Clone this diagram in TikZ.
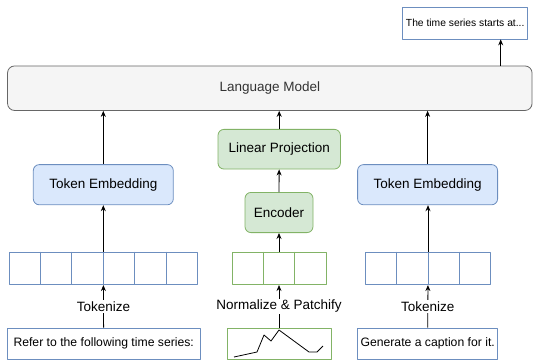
\documentclass[tikz,border=0pt]{standalone}
\usepackage{fontspec}
\setmainfont{Liberation Sans}
\usetikzlibrary{arrows.meta}
\usetikzlibrary{calc}

\definecolor{blueFill}{HTML}{DAE8FC}
\definecolor{blueLine}{HTML}{6C8EBF}
\definecolor{greenFill}{HTML}{D5E8D4}
\definecolor{greenLine}{HTML}{82B366}
\definecolor{grayFill}{HTML}{F5F5F5}
\definecolor{grayLine}{HTML}{666666}
\definecolor{darkText}{HTML}{333333}

\begin{document}
\begin{tikzpicture}[line join=round, >={Stealth[length=6pt,width=5pt]}, x=1pt, y=-1pt,
    box/.style={draw, line width=0.8pt, inner sep=0pt, font=\fontsize{13.5}{16}\selectfont},
    lmbox/.style={box, draw=grayLine, fill=grayFill, rounded corners=7pt, text=darkText},
    bluebox/.style={box, draw=blueLine, fill=blueFill, rounded corners=6pt},
    greenbox/.style={box, draw=greenLine, fill=greenFill, rounded corners=6pt},
    tokens/.style={box, fill=white, minimum height=32.7pt},
    textbox/.style={box, draw=blueLine, fill=white, minimum height=31pt, font=\fontsize{12.2}{14}\selectfont},
    lab/.style={fill=white, inner sep=1.5pt, font=\fontsize{13.5}{16}\selectfont},
    link/.style={->, line width=0.8pt}]
    \useasboundingbox (0,0) rectangle (538,360);

    % top
    \node[lmbox, minimum width=524.5pt, minimum height=44.5pt] (lm) at (269.8,88.2) {Language Model};
    \node[box, draw=blueLine, fill=white, minimum width=125pt, minimum height=32pt,
          font=\fontsize{10.3}{12}\selectfont] (out) at (465.2,23) {The time series starts at...};

    % middle
    \node[bluebox, minimum width=140pt, minimum height=40.2pt] (teL) at (103.3,184.7) {Token Embedding};
    \node[greenbox, minimum width=122.4pt, minimum height=39.7pt] (proj) at (279.2,149.2) {Linear Projection};
    \node[greenbox, minimum width=68pt, minimum height=40.2pt] (enc) at (279,212.5) {Encoder};
    \node[bluebox, minimum width=140pt, minimum height=40.2pt] (teR) at (427.6,184.7) {Token Embedding};

    % token arrays
    \node[tokens, draw=blueLine, minimum width=188pt] (arrL) at (103.3,268.3) {};
    \node[tokens, draw=greenLine, minimum width=94pt] (arrM) at (279,268.3) {};
    \node[tokens, draw=blueLine, minimum width=125.4pt] (arrR) at (428,268.3) {};
    \foreach \i in {1,...,5}
        \draw[blueLine, line width=0.8pt] ($(arrL.north west)!\i/6!(arrL.north east)$) -- ($(arrL.south west)!\i/6!(arrL.south east)$);
    \foreach \i in {1,2}
        \draw[greenLine, line width=0.8pt] ($(arrM.north west)!\i/3!(arrM.north east)$) -- ($(arrM.south west)!\i/3!(arrM.south east)$);
    \foreach \i in {1,2,3}
        \draw[blueLine, line width=0.8pt] ($(arrR.north west)!\i/4!(arrR.north east)$) -- ($(arrR.south west)!\i/4!(arrR.south east)$);

    % inputs
    \node[textbox, minimum width=193.3pt] (inL) at (103.7,343.5) {Refer to the following time series:};
    \node[box, draw=greenLine, fill=white, minimum width=104pt, minimum height=31pt] (chart) at (279,343.5) {};
    \node[textbox, minimum width=140pt] (inR) at (427.7,343.5) {Generate a caption for it.};
    \draw[line width=0.8pt] (234,357) -- (257,352) -- (264,335) -- (271,341) -- (279,330)
        -- (309,352) -- (317,352) -- (323,346);

    % connectors
    \draw[link] (inL) -- node[lab] {Tokenize} (arrL);
    \draw[link] (chart) -- node[lab] {Normalize \& Patchify} (arrM);
    \draw[link] (inR) -- node[lab] {Tokenize} (arrR);
    \draw[link] (arrL) -- (arrL |- teL.south);
    \draw[link] (arrM) -- (enc);
    \draw[link] (enc) -- (proj);
    \draw[link] (arrR) -- (arrR |- teR.south);
    \draw[link] (teL) -- (teL |- lm.south);
    \draw[link] (proj) -- (proj |- lm.south);
    \draw[link] (teR) -- (teR |- lm.south);
    \coordinate (lmOut) at (500.7,66);
    \draw[link] (lmOut) -- (lmOut |- out.south);
\end{tikzpicture}
\end{document}
